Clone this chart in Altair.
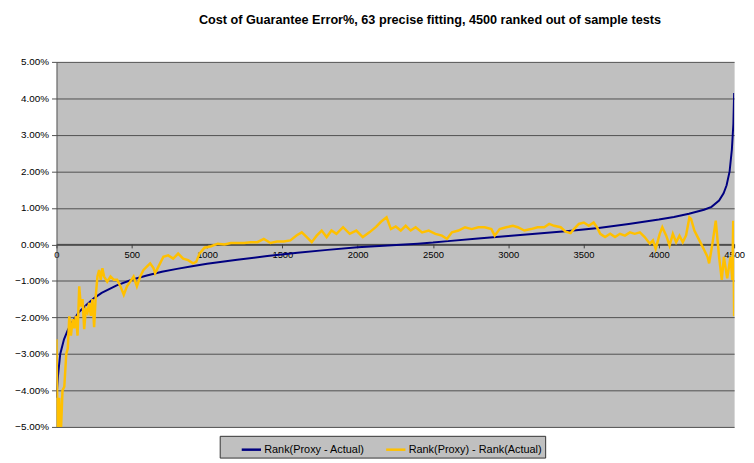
import altair as alt
import pandas as pd

TITLE = "Cost of Guarantee Error%, 63 precise fitting, 4500 ranked out of sample tests"
SERIES = ["Rank(Proxy - Actual)", "Rank(Proxy) - Rank(Actual)"]
COLORS = ["#000080", "#FFC000"]
X_TICKS = [0, 500, 1000, 1500, 2000, 2500, 3000, 3500, 4000, 4500]
Y_TICKS = [-0.05, -0.04, -0.03, -0.02, -0.01, 0.0, 0.01, 0.02, 0.03, 0.04, 0.05]

# Blue series: ranked error (percent)
blue_x = [0, 10, 25, 50, 75, 100, 150, 200, 250, 300, 400, 500, 600, 700, 800, 900,
          1000, 1200, 1400, 1600, 1800, 2000, 2200, 2400, 2500, 2600, 2800, 3000,
          3200, 3400, 3500, 3600, 3800, 4000, 4100, 4200, 4300, 4350, 4400, 4430,
          4450, 4470, 4485, 4495, 4500]
blue_y = [-4.2, -3.6, -3.0, -2.6, -2.35, -2.15, -1.85, -1.65, -1.47, -1.33, -1.12, -0.97,
          -0.85, -0.75, -0.67, -0.60, -0.53, -0.42, -0.32, -0.23, -0.15, -0.08, -0.03,
          0.02, 0.05, 0.09, 0.16, 0.23, 0.30, 0.37, 0.41, 0.45, 0.56, 0.68, 0.75, 0.84,
          0.95, 1.03, 1.20, 1.40, 1.62, 2.0, 2.6, 3.3, 4.15]

# Yellow series: rank difference (percent)
yellow_x = [0, 8, 18, 28, 40, 52, 65, 75, 85, 96, 108, 118, 129, 140, 151, 162, 173, 184,
            195, 206, 217, 228, 239, 250, 261, 272, 283, 294, 305, 316, 337, 359, 381,
            403, 425, 447, 468, 490, 512, 534, 556, 578, 600, 622, 644, 655, 677, 710,
            742, 775, 808, 841, 874, 907, 928, 950, 983, 1027, 1071, 1115, 1158, 1202,
            1246, 1290, 1334, 1377, 1421, 1465, 1509, 1553, 1596, 1629, 1662, 1695, 1728,
            1761, 1794, 1826, 1859, 1903, 1947, 1991, 2034, 2078, 2122, 2155, 2192, 2221,
            2253, 2286, 2319, 2352, 2385, 2428, 2472, 2516, 2560, 2593, 2626, 2670, 2713,
            2757, 2801, 2844, 2888, 2910, 2943, 2987, 3031, 3063, 3107, 3151, 3195, 3239,
            3272, 3304, 3348, 3381, 3414, 3436, 3469, 3502, 3535, 3567, 3589, 3611, 3643,
            3677, 3709, 3742, 3775, 3808, 3840, 3874, 3906, 3940, 3961, 3979, 4006, 4023,
            4049, 4071, 4093, 4115, 4137, 4159, 4181, 4203, 4214, 4236, 4258, 4280, 4302,
            4323, 4334, 4356, 4378, 4400, 4418, 4432, 4454, 4476, 4488, 4494, 4500]
yellow_y = [-2.6, -5.3, -4.2, -5.3, -4.0, -3.9, -3.0, -2.85, -1.97, -2.5, -2.05, -2.3, -1.96,
            -2.5, -1.15, -1.7, -1.5, -2.32, -1.78, -1.87, -1.6, -1.96, -1.5, -2.27, -1.4,
            -0.88, -0.70, -0.97, -0.65, -0.88, -1.02, -0.88, -0.97, -0.97, -1.15, -1.38,
            -1.15, -1.02, -0.88, -1.15, -0.88, -0.70, -0.61, -0.52, -0.65, -0.79, -0.61,
            -0.34, -0.30, -0.39, -0.25, -0.39, -0.43, -0.52, -0.48, -0.25, -0.09, -0.05,
            0.02, 0.0, 0.04, 0.04, 0.04, 0.06, 0.06, 0.15, 0.04, 0.08, 0.08, 0.11, 0.25,
            0.33, 0.20, 0.06, 0.24, 0.38, 0.20, 0.38, 0.29, 0.47, 0.29, 0.38, 0.20, 0.33,
            0.48, 0.62, 0.74, 0.42, 0.49, 0.38, 0.51, 0.38, 0.47, 0.33, 0.38, 0.29, 0.24,
            0.15, 0.33, 0.38, 0.47, 0.42, 0.47, 0.47, 0.42, 0.24, 0.42, 0.47, 0.51, 0.47,
            0.38, 0.42, 0.47, 0.47, 0.56, 0.51, 0.47, 0.35, 0.31, 0.42, 0.56, 0.60, 0.51,
            0.60, 0.47, 0.29, 0.20, 0.29, 0.20, 0.29, 0.24, 0.33, 0.29, 0.33, 0.20, 0.02,
            0.11, -0.12, 0.29, 0.47, 0.24, -0.03, 0.29, 0.06, 0.24, 0.06, 0.25, 0.74, 0.70,
            0.38, 0.20, 0.02, -0.16, -0.34, -0.52, 0.02, 0.65, -0.34, -0.97, -0.34, -0.93,
            -0.34, -0.97, 0.65, -1.97]

df_blue = pd.DataFrame({"rank": blue_x, "err": [v / 100 for v in blue_y], "series": SERIES[0]})
df_yellow = pd.DataFrame({"rank": yellow_x, "err": [v / 100 for v in yellow_y], "series": SERIES[1]})

FONT = "Liberation Sans"

color = alt.Color(
    "series:N",
    scale=alt.Scale(domain=SERIES, range=COLORS),
    legend=alt.Legend(
        title=None, orient="none", legendX=165, legendY=378, direction="horizontal",
        fillColor="#C0C0C0", strokeColor="#333333", padding=3,
        labelFont=FONT, labelFontSize=11, labelColor="#000000",
        symbolType="stroke", symbolStrokeWidth=2.5, symbolSize=380,
        symbolOffset=18, columnPadding=2, labelLimit=250, labelOffset=2,
    ),
)
x = alt.X(
    "rank:Q",
    scale=alt.Scale(domain=[0, 4500], nice=False),
    axis=alt.Axis(values=X_TICKS, format="d", offset=-185, grid=False, domainColor="#404040",
                  tickColor="#404040", tickSize=4, labelFont=FONT, labelFontSize=9.5,
                  labelColor="#000000", labelPadding=2, labelFlush=False, labelOverlap=False),
    title=None,
)
y = alt.Y(
    "err:Q",
    scale=alt.Scale(domain=[-0.05, 0.05], nice=False),
    axis=alt.Axis(values=Y_TICKS, format=".2%", grid=True, gridColor="#505050",
                  domainColor="#505050", tickColor="#505050", tickSize=5,
                  labelFont=FONT, labelFontSize=10, labelColor="#000000", labelPadding=3),
    title=None,
)

blue = alt.Chart(df_blue).mark_line(strokeWidth=2, clip=True).encode(x=x, y=y, color=color)
yellow = alt.Chart(df_yellow).mark_line(strokeWidth=2.5, clip=True).encode(x=x, y=y, color=color)

chart = alt.layer(blue, yellow).properties(
    width=685,
    height=369,
    padding={"left": 49, "top": 52, "right": 12, "bottom": 34},
    autosize=alt.AutoSizeParams(type="none"),
    title=alt.TitleParams(text=TITLE, font=FONT, fontSize=12.8, fontWeight="bold",
                          anchor="middle", dx=35, offset=30, color="#000000"),
).configure(background="#FFFFFF").configure_view(fill="#C0C0C0", stroke="transparent")

chart.save("out.html", embed_options={"renderer": "svg", "actions": False})
